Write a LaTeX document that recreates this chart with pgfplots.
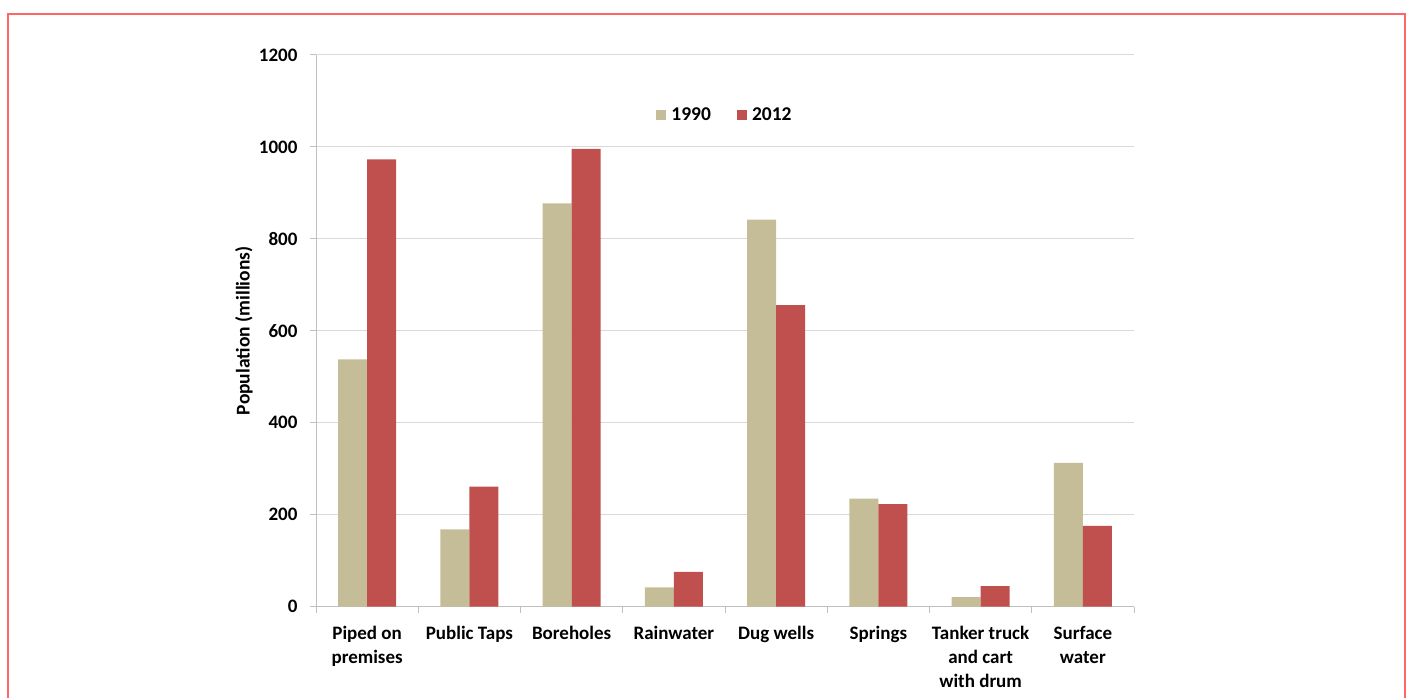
\documentclass[border=0pt]{standalone}
\usepackage{fontspec}
\setmainfont{Carlito}
\usepackage{pgfplots}
\pgfplotsset{compat=1.18}
\definecolor{tanc}{HTML}{C4BD97}
\definecolor{brick}{HTML}{C0504D}
\definecolor{framec}{HTML}{FF6666}
\definecolor{gridc}{HTML}{D9D9D9}
\definecolor{axc}{HTML}{BFBFBF}
\begin{document}
\begin{tikzpicture}[x=1pt,y=1pt]
\useasboundingbox (0,0) rectangle (1408,698);
\draw[framec, line width=2.5pt] (8,-2) -- (8,684) -- (1405,684) -- (1405,-2);
\begin{axis}[
  at={(316pt,91.3pt)}, anchor=south west,
  scale only axis, width=818pt, height=551.7pt,
  ymin=0, ymax=1200, xmin=-0.5, xmax=7.5,
  ytick={0,200,...,1200},
  ymajorgrids, grid style={gridc, line width=1pt},
  axis x line*=bottom, axis y line*=left,
  axis line style={axc, line width=1pt, -},
  xtick={0,...,7},
  xticklabels={{Piped on\\premises},{Public Taps},{Boreholes},{Rainwater},{Dug wells},{Springs},{Tanker truck\\and cart\\with drum},{Surface\\water}},
  major x tick style={draw=none},
  minor xtick={-0.5,0.5,...,7.5},
  minor tick length=6pt, major tick length=6pt, tick align=outside,
  tick style={axc, line width=1pt},
  ybar=0pt, bar width=29pt,
  /pgf/number format/assume math mode=true,
  /pgf/number format/1000 sep={},
  ticklabel style={font=\bfseries\fontsize{19}{24}\selectfont, text=black},
  xticklabel style={align=center, anchor=north, yshift=-10pt},
  yticklabel style={xshift=-9pt},
  ylabel={Population (millions)},
  every axis y label/.style={at={(axis description cs:-0.088,0.5)}, rotate=90, anchor=center, font=\bfseries\fontsize{19.5}{22}\selectfont},
  legend style={at={(0.5,0.891)}, anchor=center, draw=none, fill=none, legend columns=2,
    font=\bfseries\fontsize{19.5}{22}\selectfont,
    /tikz/every odd column/.append style={column sep=3pt},
    /tikz/every even column/.append style={column sep=24pt}},
  legend image code/.code={\fill[#1] (0pt,-5pt) rectangle (10pt,5pt);},
]
\addplot[fill=tanc, draw=none] coordinates {(0,538) (1,168) (2,877) (3,42) (4,842) (5,235) (6,21) (7,313)};
\addplot[fill=brick, draw=none] coordinates {(0,973) (1,261) (2,996) (3,76) (4,656) (5,223) (6,45) (7,176)};
\legend{1990,2012}
\end{axis}
\end{tikzpicture}
\end{document}
